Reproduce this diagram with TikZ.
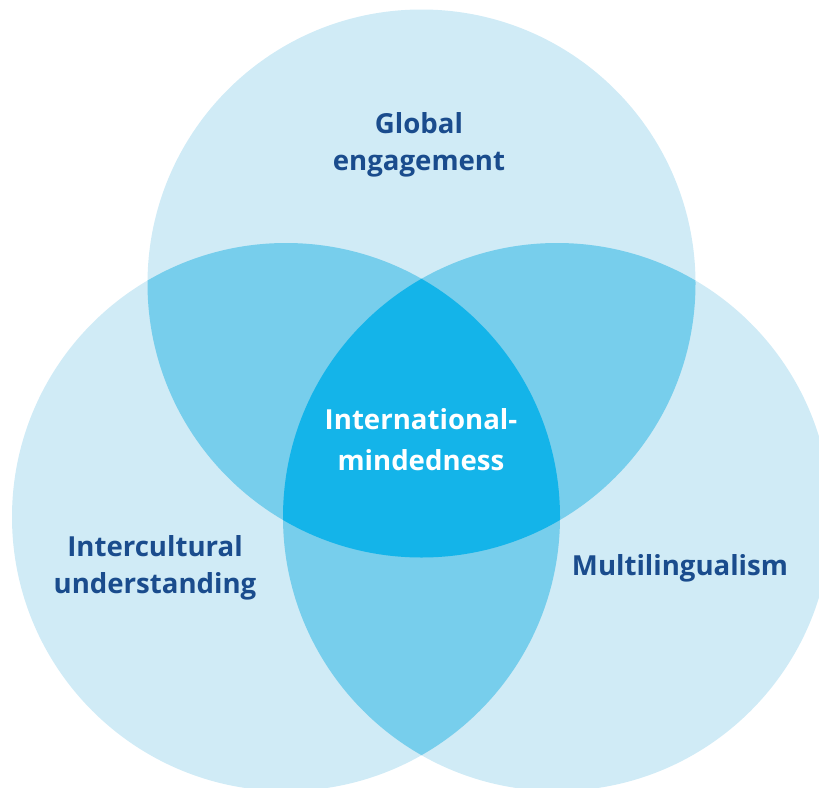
\documentclass[tikz,border=0pt]{standalone}
\usepackage{fontspec}
\setmainfont{Open Sans}
\definecolor{lightblue}{RGB}{208,235,246}
\definecolor{midblue}{RGB}{119,206,236}
\definecolor{darkblue}{RGB}{20,180,233}
\definecolor{textblue}{RGB}{26,76,141}
\begin{document}
\begin{tikzpicture}[x=1pt,y=-1pt,
  lbl/.style={font=\bfseries\fontsize{27.6}{37}\selectfont,text=textblue,align=center,inner sep=0pt},
  clbl/.style={lbl,text=white,font=\bfseries\fontsize{27.6}{41}\selectfont}]
\useasboundingbox (0,0) rectangle (819,787);
\begin{scope}
\clip (0,0) rectangle (819,787);
\def\ctop{(421.5,283.5) circle[radius=274]}
\def\cleft{(286,517) circle[radius=274]}
\def\cright{(557,517) circle[radius=274]}
\fill[lightblue] \ctop;
\fill[lightblue] \cleft;
\fill[lightblue] \cright;
\begin{scope}\clip \ctop; \fill[midblue] \cleft; \fill[midblue] \cright;\end{scope}
\begin{scope}\clip \cleft; \fill[midblue] \cright;\end{scope}
\begin{scope}\clip \ctop; \clip \cleft; \fill[darkblue] \cright;\end{scope}
\end{scope}
\node[lbl] (glob) at (419,145) {Global\\engagement};
\node[lbl] (inter) at (155,568) {Intercultural\\understanding};
\node[lbl] (multi) at (680,568) {Multilingualism};
\node[clbl] (im) at (421,440) {International-\\mindedness};
\end{tikzpicture}
\end{document}
